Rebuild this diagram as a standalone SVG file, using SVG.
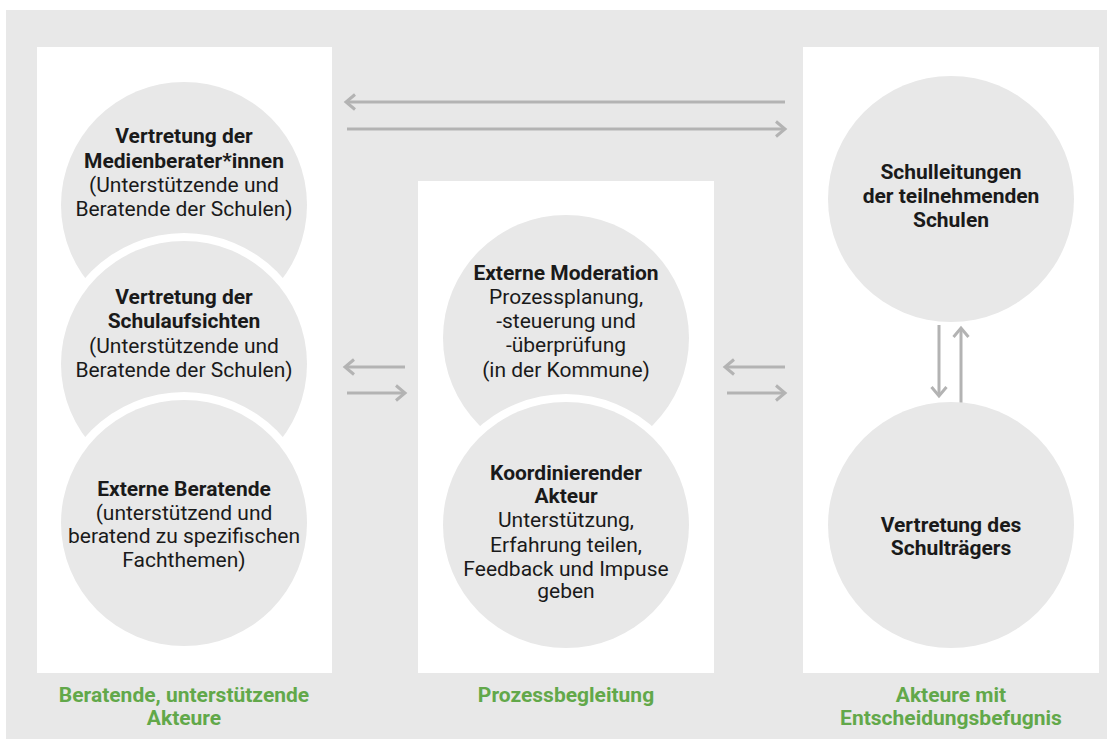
<svg xmlns="http://www.w3.org/2000/svg" width="1113" height="749" viewBox="0 0 1113 749">
  <defs>
    <marker id="chev" markerUnits="userSpaceOnUse" markerWidth="20" markerHeight="20" viewBox="-12 -10 14 20" refX="0" refY="0" orient="auto">
      <path d="M-9,-7.5 L0,0 L-9,7.5" fill="none" stroke="#b3b3b3" stroke-width="3"/>
    </marker>
    <style>
      .panel { fill: #ffffff; }
      .halo { fill: #ffffff; }
      .disc { fill: #e8e8e8; }
      .t { font-family: Roboto, "Liberation Sans", sans-serif; font-size: 21px; fill: #1a1a1a; text-anchor: middle; }
      .b { font-weight: bold; }
      .cap { font-family: Roboto, "Liberation Sans", sans-serif; font-size: 21px; font-weight: bold; fill: #62a84a; text-anchor: middle; }
      .arr { stroke: #b3b3b3; stroke-width: 3; fill: none; marker-end: url(#chev); }
    </style>
  </defs>

  <!-- backdrop -->
  <rect x="6" y="10" width="1101" height="729" fill="#e8e8e8"/>

  <!-- column panels -->
  <rect class="panel" x="37" y="47" width="295" height="626"/>
  <rect class="panel" x="418" y="181" width="296" height="492"/>
  <rect class="panel" x="803" y="47" width="296" height="626"/>

  <!-- connectors -->
  <g id="connectors">
    <line class="arr" x1="785" y1="102" x2="346" y2="102"/>
    <line class="arr" x1="347" y1="129" x2="785" y2="129"/>
    <line class="arr" x1="405" y1="367" x2="345" y2="367"/>
    <line class="arr" x1="347" y1="393" x2="405" y2="393"/>
    <line class="arr" x1="785" y1="367" x2="725" y2="367"/>
    <line class="arr" x1="727" y1="393" x2="785" y2="393"/>
    <line class="arr" x1="939" y1="325" x2="939" y2="396"/>
    <line class="arr" x1="961" y1="407" x2="961" y2="328"/>
  </g>

  <!-- left column: advisory actors -->
  <g id="medienberater">
    <circle class="disc" cx="184" cy="205" r="123"/>
    <text class="t b" x="184" y="143">Vertretung der</text>
    <text class="t b" x="184" y="168">Medienberater*innen</text>
    <text class="t" x="184" y="192">(Unterstützende und</text>
    <text class="t" x="184" y="216">Beratende der Schulen)</text>
  </g>
  <g id="schulaufsichten">
    <circle class="halo" cx="184" cy="364" r="131"/>
    <circle class="disc" cx="184" cy="364" r="123"/>
    <text class="t b" x="184" y="304">Vertretung der</text>
    <text class="t b" x="184" y="328">Schulaufsichten</text>
    <text class="t" x="184" y="353">(Unterstützende und</text>
    <text class="t" x="184" y="377">Beratende der Schulen)</text>
  </g>
  <g id="externe-beratende">
    <circle class="halo" cx="184" cy="523" r="131"/>
    <circle class="disc" cx="184" cy="523" r="123"/>
    <text class="t b" x="184" y="496">Externe Beratende</text>
    <text class="t" x="184" y="520">(unterstützend und</text>
    <text class="t" x="184" y="543">beratend zu spezifischen</text>
    <text class="t" x="184" y="567">Fachthemen)</text>
  </g>

  <!-- middle column: process support -->
  <g id="moderation">
    <circle class="disc" cx="566" cy="338" r="123"/>
    <text class="t b" x="566" y="280">Externe Moderation</text>
    <text class="t" x="566" y="304">Prozessplanung,</text>
    <text class="t" x="566" y="328">-steuerung und</text>
    <text class="t" x="566" y="352">-überprüfung</text>
    <text class="t" x="566" y="377">(in der Kommune)</text>
  </g>
  <g id="koordination">
    <circle class="halo" cx="566" cy="525" r="131"/>
    <circle class="disc" cx="566" cy="525" r="123"/>
    <text class="t b" x="566" y="480">Koordinierender</text>
    <text class="t b" x="566" y="503">Akteur</text>
    <text class="t" x="566" y="527">Unterstützung,</text>
    <text class="t" x="566" y="552">Erfahrung teilen,</text>
    <text class="t" x="566" y="576">Feedback und Impuse</text>
    <text class="t" x="566" y="598">geben</text>
  </g>

  <!-- right column: decision makers -->
  <g id="schulleitungen">
    <circle class="disc" cx="951" cy="199" r="123"/>
    <text class="t b" x="951" y="179">Schulleitungen</text>
    <text class="t b" x="951" y="203">der teilnehmenden</text>
    <text class="t b" x="951" y="227">Schulen</text>
  </g>
  <g id="schultraeger">
    <circle class="disc" cx="951" cy="525" r="123"/>
    <text class="t b" x="951" y="532">Vertretung des</text>
    <text class="t b" x="951" y="555">Schulträgers</text>
  </g>

  <!-- column captions -->
  <g id="captions">
    <text class="cap" x="184" y="702">Beratende, unterstützende</text>
    <text class="cap" x="184" y="725">Akteure</text>
    <text class="cap" x="566" y="702">Prozessbegleitung</text>
    <text class="cap" x="951" y="702">Akteure mit</text>
    <text class="cap" x="951" y="725">Entscheidungsbefugnis</text>
  </g>
</svg>
